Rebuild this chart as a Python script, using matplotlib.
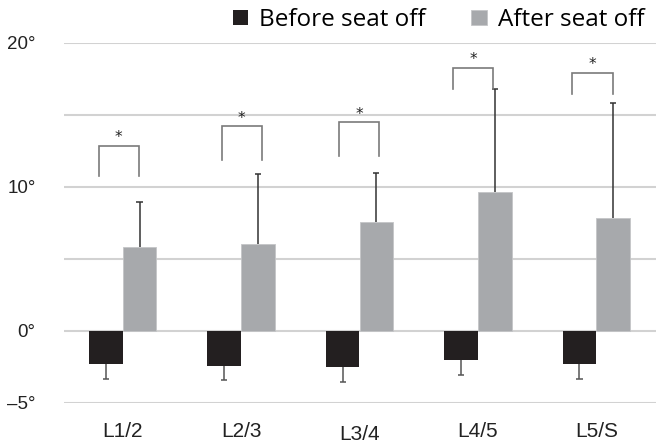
import matplotlib.pyplot as plt
import matplotlib.transforms as mtransforms
import numpy as np

segments = ['L1/2', 'L2/3', 'L3/4', 'L4/5', 'L5/S']
before = [-2.33, -2.43, -2.50, -2.01, -2.33]
before_sd = [1.02, 1.01, 1.06, 1.05, 1.02]
after = [5.79, 6.00, 7.53, 9.63, 7.80]
after_sd = [3.17, 4.86, 3.44, 7.15, 7.99]

# significance brackets: top of bracket, bottom of legs
br_top = [12.85, 14.19, 14.47, 18.26, 17.90]
br_leg = [10.74, 11.85, 12.13, 16.81, 16.44]
br_shift = [-0.033, 0.006, -0.004, -0.040, -0.032]

yticks = [-5, 0, 5, 10, 15, 20]
ytick_labels = ['\u20135\u00b0', '0\u00b0', '', '10\u00b0', '', '20\u00b0']

black = '#231f20'
gray = '#a7a9ac'

fig = plt.figure(figsize=(6.61, 4.48), dpi=100)
ax = fig.add_axes([63.5 / 661, 45.3 / 448, 592 / 661, 360 / 448])

x = np.arange(len(segments))
w = 0.285

b1 = ax.bar(x - w / 2, before, w, color=black, zorder=3, label='Before seat off')
b2 = ax.bar(x + w / 2, after, w, color=gray, edgecolor='#c4c5c7', linewidth=0.6,
            zorder=3, label='After seat off')

# one-sided error bars
lo = np.array(before) - np.array(before_sd)
hi = np.array(after) + np.array(after_sd)
cap = 0.026
ax.vlines(x - w / 2, before, lo, color='#555555', lw=1.1, zorder=4)
ax.hlines(lo, x - w / 2 - cap, x - w / 2 + cap, color='#555555', lw=1.1, zorder=4)
ax.vlines(x + w / 2, after, hi, color='#333333', lw=1.1, zorder=4)
ax.hlines(hi, x + w / 2 - cap, x + w / 2 + cap, color='#333333', lw=1.1, zorder=4)

# brackets with stars
half = 0.17
for i in range(len(segments)):
    c = x[i] + br_shift[i]
    ax.plot([c - half, c - half, c + half, c + half],
            [br_leg[i], br_top[i], br_top[i], br_leg[i]],
            color='#7a7a7a', lw=1.2, zorder=4, solid_joinstyle='miter')
    ax.text(c, br_top[i] + 0.05, '*', ha='center', va='bottom',
            fontsize=11, color='#222222', family='DejaVu Sans')

ax.set_xlim(-0.5, len(segments) - 0.5)
ax.set_ylim(-5, 20)
ax.set_yticks(yticks)
ax.set_yticklabels(ytick_labels, fontsize=13.5, family='Liberation Sans', color='#222222')
ax.set_xticks(x)
ax.set_xticklabels(segments, fontsize=15, family='Liberation Sans', color='#222222')
ax.tick_params(axis='both', length=0)
ax.tick_params(axis='y', pad=20)
ax.tick_params(axis='x', pad=14)
# the middle label sits a little lower in the original
lab = ax.get_xticklabels()[2]
lab.set_transform(lab.get_transform() + mtransforms.ScaledTranslation(0, -3 / 100, fig.dpi_scale_trans))

ax.grid(axis='y', color='#d2d2d2', lw=1.5, zorder=0)
ax.set_axisbelow(True)
for s in ax.spines.values():
    s.set_visible(False)

fig.legend(handles=[b1, b2], loc='center right', bbox_to_anchor=(644 / 661, 1 - 20 / 448),
           ncol=2, frameon=False, prop={'family': 'Open Sans', 'size': 17.5},
           handlelength=0.62, handleheight=0.62, handletextpad=0.45,
           columnspacing=1.9, borderpad=0, borderaxespad=0)

fig.savefig('out.png', dpi=100)
